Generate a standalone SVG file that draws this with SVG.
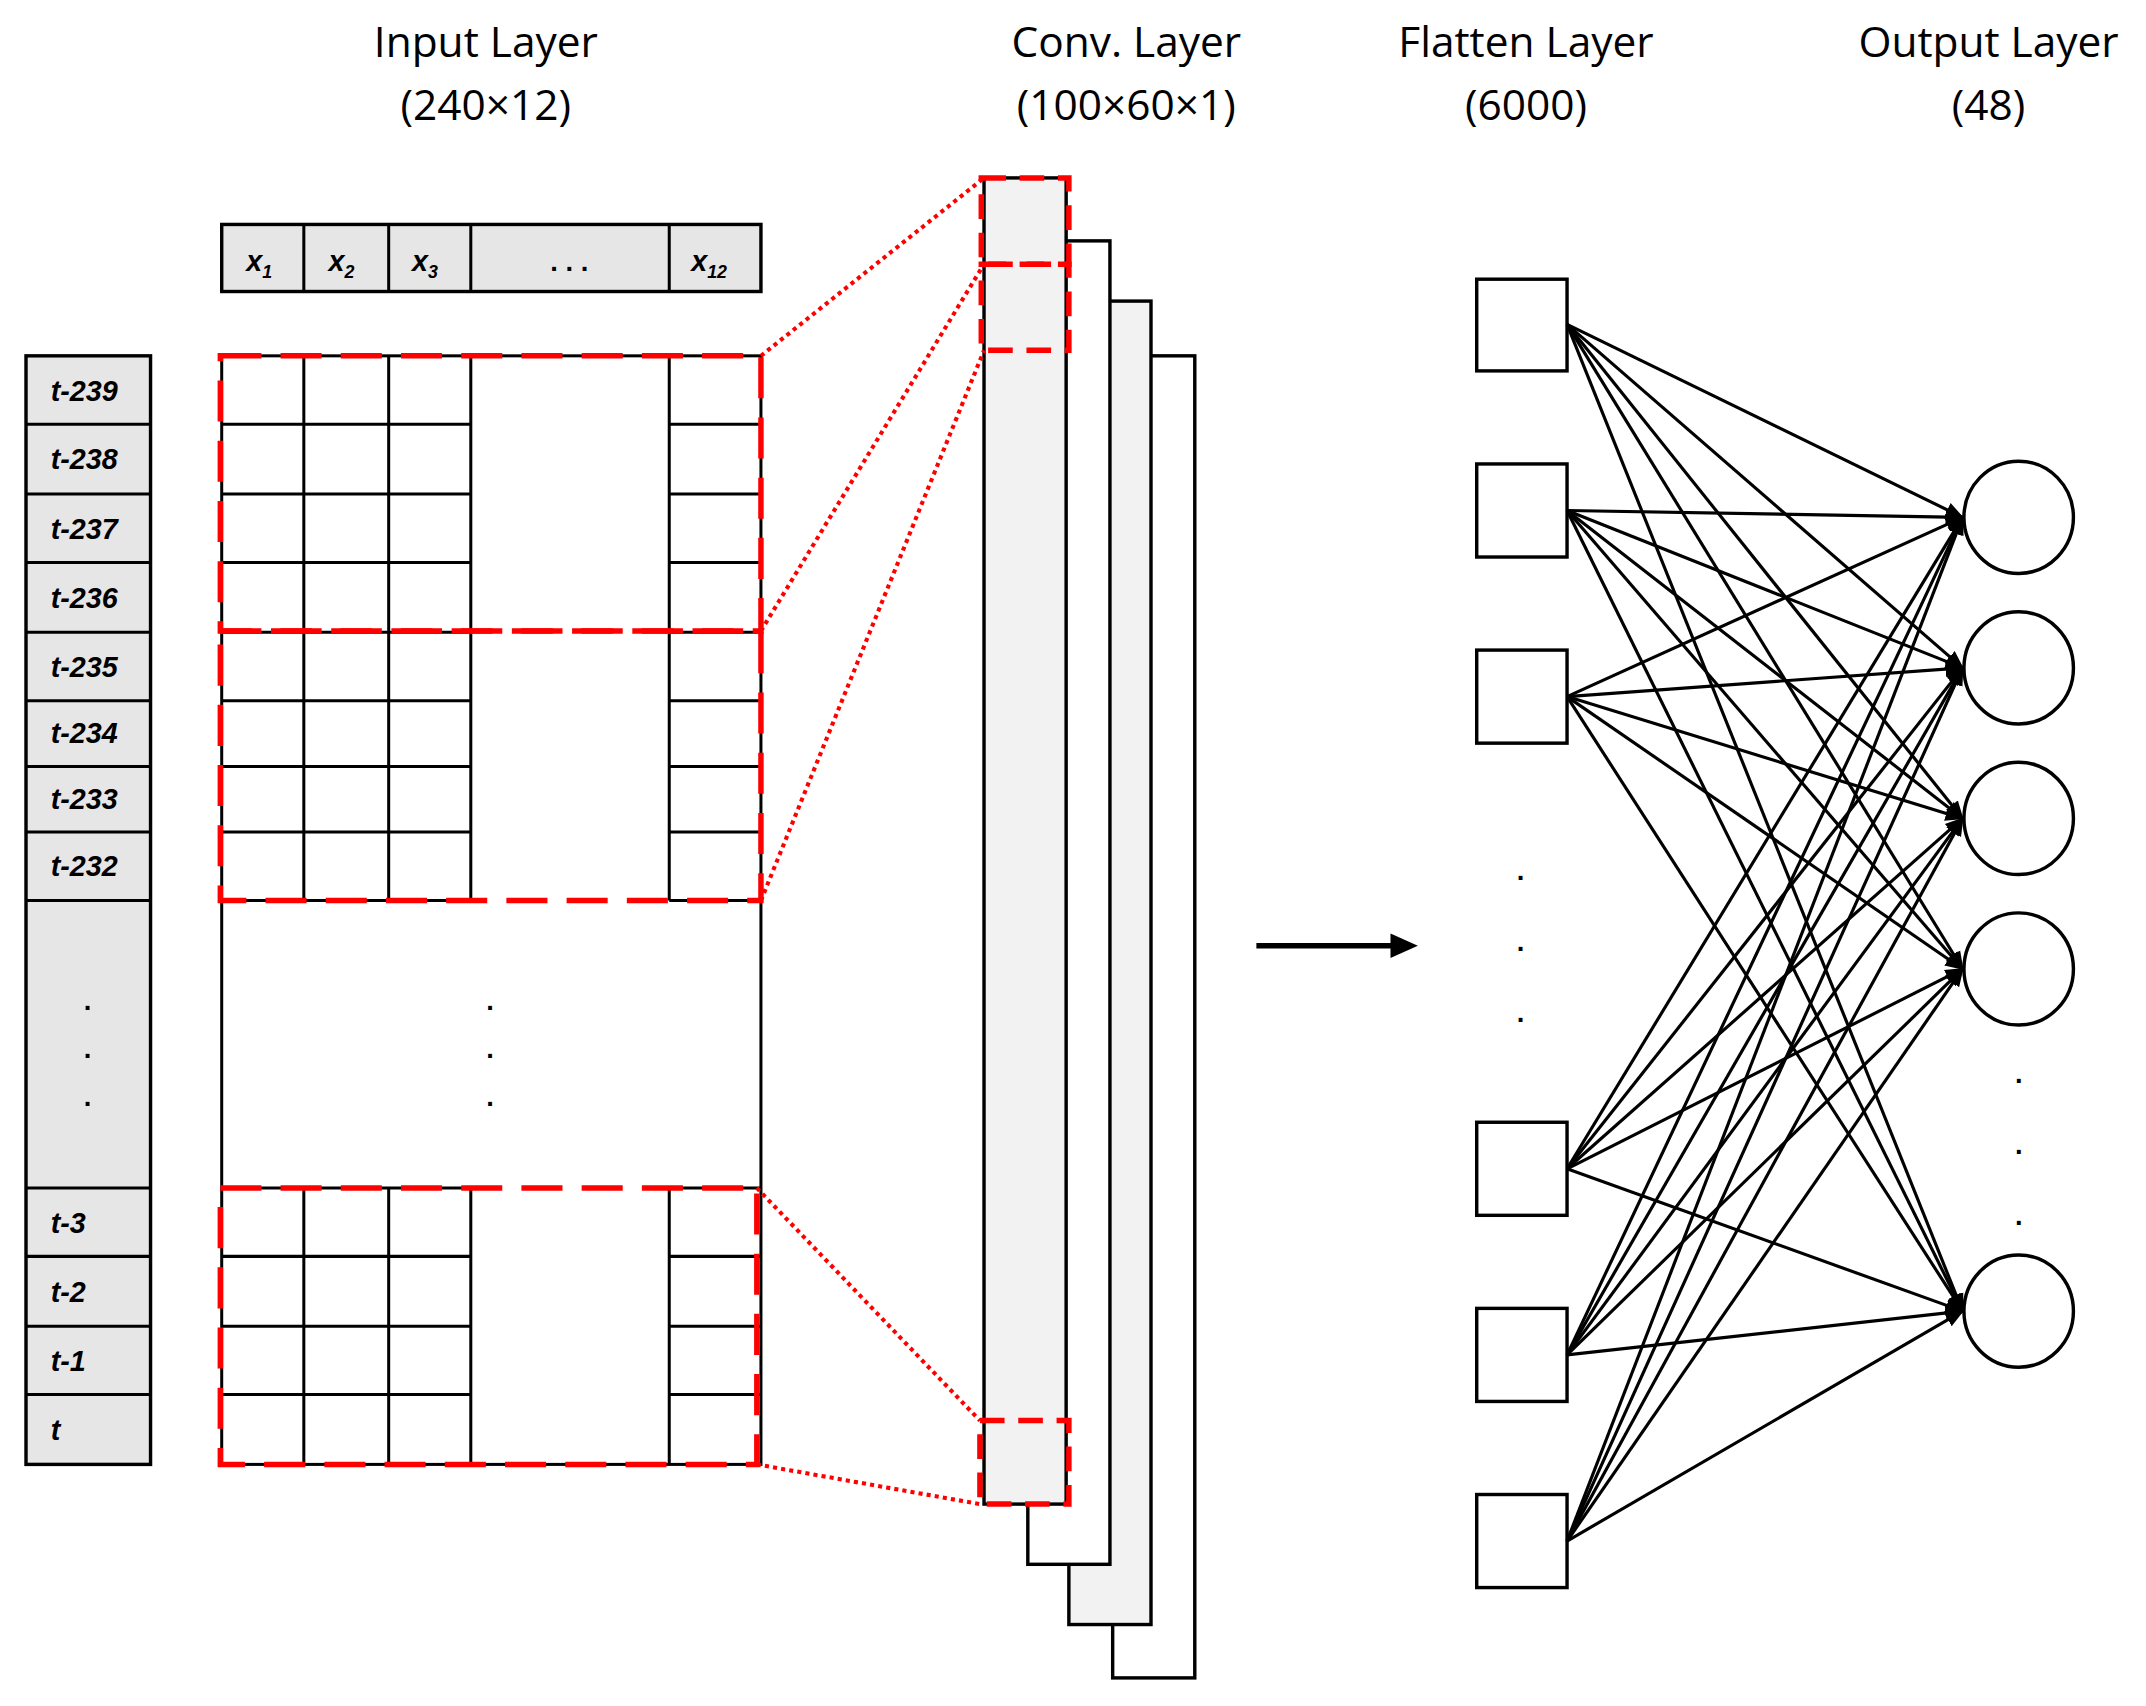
<svg xmlns="http://www.w3.org/2000/svg" width="2146" height="1706" viewBox="0 0 2146 1706">
<style>
.t{font-family:"Open Sans","Noto Sans",sans-serif;font-size:31px;text-anchor:middle;fill:#000}
.l{font-family:"Liberation Sans",sans-serif;font-size:21px;font-weight:bold;font-style:italic;fill:#000}
.b{fill:none;stroke:#000;stroke-width:2.2}
.g{fill:#e6e6e6;stroke:#000;stroke-width:2.5}
.c{fill:#f2f2f2;stroke:#000;stroke-width:2.5}
.w{fill:#fff;stroke:#000;stroke-width:2.5}
.rd{fill:none;stroke:#f00;stroke-width:4;stroke-dasharray:30 14}
.rt{fill:none;stroke:#f00;stroke-width:3;stroke-dasharray:3 3}
.e{stroke:#000;stroke-width:2.3;marker-end:url(#ah)}
.d{font-family:"Liberation Sans",sans-serif;font-size:20px;font-weight:bold;text-anchor:middle}
</style>
<defs><marker id="ah" viewBox="0 0 10 10" refX="9" refY="5" markerWidth="6" markerHeight="6" orient="auto" markerUnits="strokeWidth"><path d="M0,1 L10,5 L0,9z" fill="#000"/></marker></defs>
<rect width="2146" height="1706" fill="#fff"/>
<g transform="scale(1.3686)">
<g id="titles">
<text class="t" x="355" y="42">Input Layer</text><text class="t" x="355" y="88">(240×12)</text>
<text class="t" x="823" y="42">Conv. Layer</text><text class="t" x="823" y="88">(100×60×1)</text>
<text class="t" x="1115" y="42">Flatten Layer</text><text class="t" x="1115" y="88">(6000)</text>
<text class="t" x="1453" y="42">Output Layer</text><text class="t" x="1453" y="88">(48)</text>
</g>
<g id="header">
<rect class="g" x="162" y="164" width="394" height="49"/>
<path class="b" d="M222,164V213M284,164V213M344,164V213M489,164V213"/>
<text class="l" x="180" y="198">x<tspan font-size="13" dy="5">1</tspan></text>
<text class="l" x="240" y="198">x<tspan font-size="13" dy="5">2</tspan></text>
<text class="l" x="301" y="198">x<tspan font-size="13" dy="5">3</tspan></text>
<text class="d" x="416" y="198">. . .</text>
<text class="l" x="505" y="198">x<tspan font-size="13" dy="5">12</tspan></text>
</g>
<g id="timecol">
<rect class="g" x="19" y="260" width="91" height="810"/>
<path class="b" d="M19,310H110M19,361H110M19,411H110M19,462H110M19,512H110M19,560H110M19,608H110M19,658H110M19,868H110M19,918H110M19,969H110M19,1019H110"/>
<text class="l" x="37" y="293">t-239</text><text class="l" x="37" y="343">t-238</text><text class="l" x="37" y="394">t-237</text><text class="l" x="37" y="444">t-236</text>
<text class="l" x="37" y="495">t-235</text><text class="l" x="37" y="543">t-234</text><text class="l" x="37" y="591">t-233</text><text class="l" x="37" y="640">t-232</text>
<text class="d" x="64" y="738">.</text><text class="d" x="64" y="773">.</text><text class="d" x="64" y="808">.</text>
<text class="l" x="37" y="901">t-3</text><text class="l" x="37" y="951">t-2</text><text class="l" x="37" y="1002">t-1</text><text class="l" x="37" y="1052">t</text>
</g>
<g id="grid">
<rect x="162" y="260" width="394" height="810" fill="#fff" stroke="#000" stroke-width="2.2"/>
<path class="b" d="M222,260V658M284,260V658M344,260V658M489,260V658M222,868V1070M284,868V1070M344,868V1070M489,868V1070"/>
<path class="b" d="M162,310H344M162,361H344M162,411H344M162,462H344M162,512H344M162,560H344M162,608H344M162,658H344M162,868H344M162,918H344M162,969H344M162,1019H344"/>
<path class="b" d="M489,310H556M489,361H556M489,411H556M489,462H556M489,512H556M489,560H556M489,608H556M489,658H556M489,868H556M489,918H556M489,969H556M489,1019H556"/>
<text class="d" x="358" y="738">.</text><text class="d" x="358" y="773">.</text><text class="d" x="358" y="808">.</text>
<rect class="rd" x="161" y="260" width="395" height="201"/>
<rect class="rd" x="161" y="461" width="395" height="197"/>
<rect class="rd" x="161" y="868" width="392" height="202"/>
</g>
<g id="conv">
<rect class="w" x="813" y="260" width="60" height="966"/>
<rect class="c" x="781" y="220" width="60" height="967"/>
<rect class="w" x="751" y="176" width="60" height="967"/>
<rect class="c" x="719" y="130" width="60" height="969"/>
<rect class="rd" x="717" y="130" width="64" height="63" style="stroke-dasharray:18 10"/>
<rect class="rd" x="717" y="193" width="64" height="63" style="stroke-dasharray:18 10"/>
<rect class="rd" x="716" y="1038" width="65" height="61" style="stroke-dasharray:18 10"/>
</g>
<g id="zoomlines">
<path class="rt" d="M556,260L719,130M556,461L719,193M556,658L719,256M553,868L716,1038M553,1070L716,1099"/>
</g>
<path d="M918,691H1025" stroke="#000" stroke-width="4"/>
<path d="M1036,691L1016,682V700z" fill="#000"/>
<g id="flatten">
<rect class="w" x="1079" y="204" width="66" height="67"/>
<rect class="w" x="1079" y="339" width="66" height="68"/>
<rect class="w" x="1079" y="475" width="66" height="68"/>
<rect class="w" x="1079" y="820" width="66" height="68"/>
<rect class="w" x="1079" y="956" width="66" height="68"/>
<rect class="w" x="1079" y="1092" width="66" height="68"/>
<text class="d" x="1111" y="643">.</text><text class="d" x="1111" y="695">.</text><text class="d" x="1111" y="747">.</text>
</g>
<g id="output">
<ellipse class="w" cx="1475" cy="378" rx="40" ry="41"/>
<ellipse class="w" cx="1475" cy="488" rx="40" ry="41"/>
<ellipse class="w" cx="1475" cy="598" rx="40" ry="41"/>
<ellipse class="w" cx="1475" cy="708" rx="40" ry="41"/>
<ellipse class="w" cx="1475" cy="958" rx="40" ry="41"/>
<text class="d" x="1475" y="791">.</text><text class="d" x="1475" y="843">.</text><text class="d" x="1475" y="895">.</text>
</g>
<g id="connectors">
<path class="e" d="M1145,237L1434,378"/><path class="e" d="M1145,237L1434,488"/><path class="e" d="M1145,237L1434,598"/><path class="e" d="M1145,237L1434,708"/><path class="e" d="M1145,237L1434,958"/>
<path class="e" d="M1145,373L1434,378"/><path class="e" d="M1145,373L1434,488"/><path class="e" d="M1145,373L1434,598"/><path class="e" d="M1145,373L1434,708"/><path class="e" d="M1145,373L1434,958"/>
<path class="e" d="M1145,509L1434,378"/><path class="e" d="M1145,509L1434,488"/><path class="e" d="M1145,509L1434,598"/><path class="e" d="M1145,509L1434,708"/><path class="e" d="M1145,509L1434,958"/>
<path class="e" d="M1145,854L1434,378"/><path class="e" d="M1145,854L1434,488"/><path class="e" d="M1145,854L1434,598"/><path class="e" d="M1145,854L1434,708"/><path class="e" d="M1145,854L1434,958"/>
<path class="e" d="M1145,990L1434,378"/><path class="e" d="M1145,990L1434,488"/><path class="e" d="M1145,990L1434,598"/><path class="e" d="M1145,990L1434,708"/><path class="e" d="M1145,990L1434,958"/>
<path class="e" d="M1145,1126L1434,378"/><path class="e" d="M1145,1126L1434,488"/><path class="e" d="M1145,1126L1434,598"/><path class="e" d="M1145,1126L1434,708"/><path class="e" d="M1145,1126L1434,958"/>
</g>
</g>
</svg>
